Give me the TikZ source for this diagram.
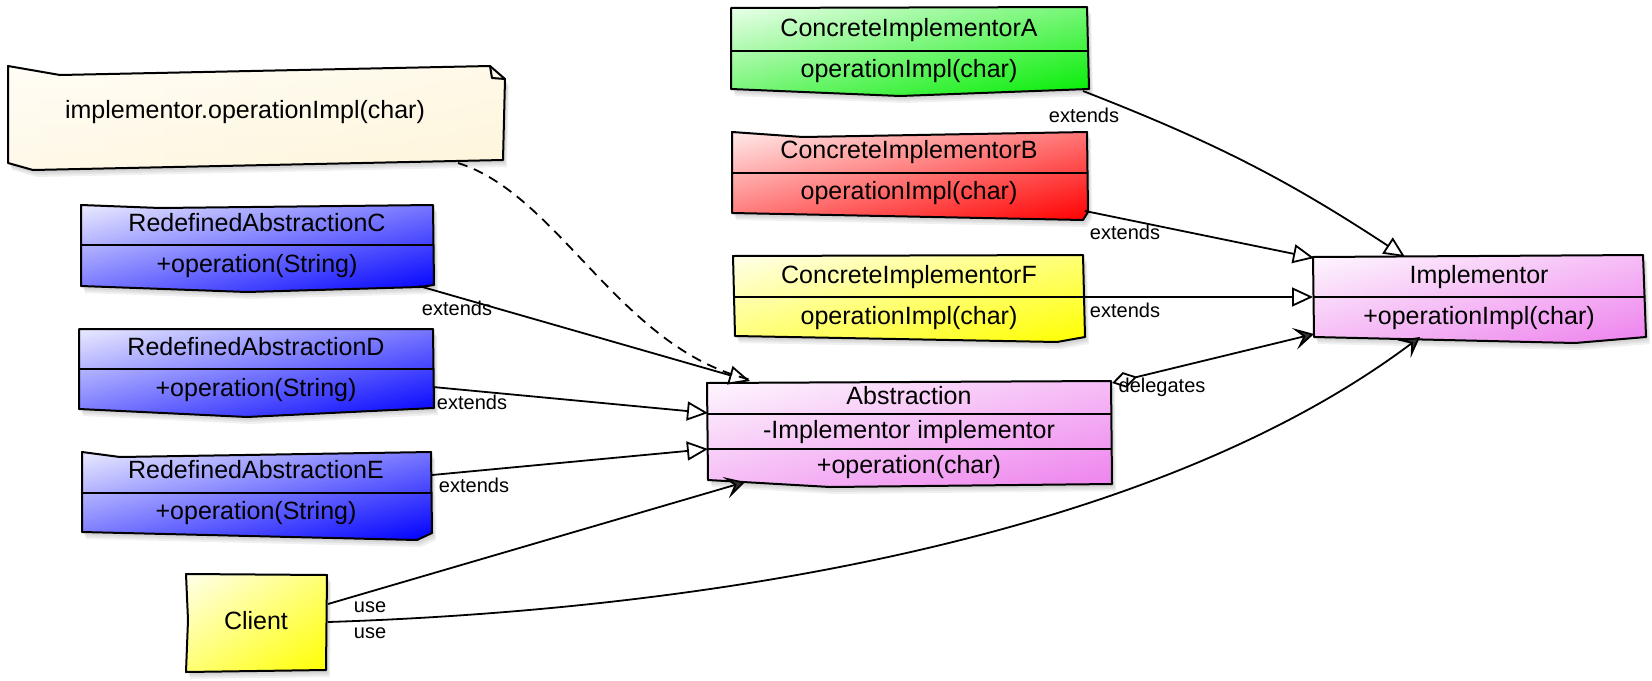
\documentclass[tikz,border=0pt]{standalone}
\usepackage{fontspec}
\setmainfont{Liberation Sans}
\usetikzlibrary{arrows.meta,fit,calc}

\definecolor{violetc}{RGB}{238,130,238}
\definecolor{notetop}{RGB}{255,253,246}
\definecolor{notebot}{RGB}{254,245,218}

% outline polygon with a soft drop shadow; the fill runs from #1 in the
% top left corner to #2 in the bottom right corner (average of a
% horizontal and a vertical linear gradient)
\newcommand\shadedbox[3]{%
  \foreach \d in {1,2,3}{\fill[black,opacity=0.06,shift={(\d+1,\d*2+1)}] #3;}
  \shade[left color=#1,right color=#2] #3;
  \shade[top color=#1,bottom color=#2,fill opacity=0.5] #3;
  \draw[outline] #3;
}

\begin{document}
\begin{tikzpicture}[x=0.5pt,y=-0.5pt,
  outline/.style={draw=black,line width=1pt,line join=round},
  boxfit/.style={inner sep=0pt,outer sep=0pt},
  txt/.style={font=\fontsize{12.5}{14}\selectfont,text height=9pt,text depth=2.5pt,inner sep=0pt},
  tag/.style={font=\fontsize{10}{12}\selectfont,inner sep=0pt},
  conn/.style={line width=0.9pt,line join=round},
  ext/.style={conn,-{Triangle[open,length=10.5pt,width=9.5pt,fill=white]}},
  uses/.style={conn,-{Stealth[length=10pt,width=11pt,inset=4.5pt,fill=black!80]}},
  deleg/.style={conn,{Diamond[open,length=13pt,width=8pt,fill=white]}-{Stealth[length=10pt,width=11pt,inset=4.5pt,fill=black!80]}},
  notelink/.style={conn,dashed,dash pattern=on 5pt off 3.5pt},
]
\useasboundingbox (0,0) rectangle (1652,680);

% ---------- note ----------
\shadedbox{notetop}{notebot}{(8,66) -- (60,75) -- (490,66) -- (505,79) -- (503,160) -- (33,170) -- (8,163) -- cycle}
\draw[outline] (490,66) -- (492,78) -- (505,79);
\node[boxfit,fit={(8,66) (506,170)}] (Note) {};
\node[txt] (Note-t) at (245,112) {implementor.operationImpl(char)};

% ---------- concrete implementors ----------
\shadedbox{green!8!white}{green!93!black}{(731,8) -- (1087,7) -- (1089,89) -- (900,96) -- (731,89) -- cycle}
\draw[outline] (731,51) -- (1088,51);
\node[boxfit,fit={(731,7) (1090,96)}] (A) {};
\node[txt] (A-n) at (909,30) {ConcreteImplementorA};
\node[txt] (A-o) at (909,71) {operationImpl(char)};

\shadedbox{red!8!white}{red}{(732,132) -- (803,137) -- (1087,132) -- (1088,212) -- (1083,220) -- (732,213) -- cycle}
\draw[outline] (732,173) -- (1088,173);
\node[boxfit,fit={(732,132) (1088,220)}] (B) {};
\node[txt] (B-n) at (909,152) {ConcreteImplementorB};
\node[txt] (B-o) at (909,193) {operationImpl(char)};

\shadedbox{yellow!8!white}{yellow}{(733,256) -- (1083,255) -- (1085,337) -- (1057,342) -- (735,336) -- cycle}
\draw[outline] (733,297) -- (1085,297);
\node[boxfit,fit={(733,255) (1085,342)}] (F) {};
\node[txt] (F-n) at (909,277) {ConcreteImplementorF};
\node[txt] (F-o) at (909,318) {operationImpl(char)};

% ---------- implementor ----------
\shadedbox{violetc!6!white}{violetc}{(1313,257) -- (1643,255) -- (1646,337) -- (1575,343) -- (1314,337) -- cycle}
\draw[outline] (1313,297) -- (1645,297);
\node[boxfit,fit={(1313,255) (1646,343)}] (Impl) {};
\node[txt] (Impl-n) at (1479,277) {Implementor};
\node[txt] (Impl-o) at (1479,318) {+operationImpl(char)};

% ---------- abstraction ----------
\shadedbox{violetc!6!white}{violetc}{(707,383) -- (1111,381) -- (1112,484) -- (830,487) -- (708,480) -- cycle}
\draw[outline] (707,414) -- (1111,414);
\draw[outline] (708,449) -- (1112,449);
\node[boxfit,fit={(707,381) (1112,487)}] (Abs) {};
\node[txt] (Abs-n) at (909,398) {Abstraction};
\node[txt] (Abs-a) at (909,432) {-Implementor implementor};
\node[txt] (Abs-o) at (909,467) {+operation(char)};

% ---------- refined abstractions ----------
\shadedbox{blue!8!white}{blue}{(81,205) -- (160,208) -- (433,205) -- (434,285) -- (420,287) -- (247,292) -- (81,286) -- cycle}
\draw[outline] (81,245) -- (433,245);
\node[boxfit,fit={(81,205) (433,292)}] (C) {};
\node[txt] (C-n) at (257,225) {RedefinedAbstractionC};
\node[txt] (C-o) at (257,266) {+operation(String)};

\shadedbox{blue!8!white}{blue}{(79,329) -- (433,329) -- (434,408) -- (247,417) -- (79,409) -- cycle}
\draw[outline] (79,369) -- (433,369);
\node[boxfit,fit={(79,329) (433,417)}] (D) {};
\node[txt] (D-n) at (256,349) {RedefinedAbstractionD};
\node[txt] (D-o) at (256,390) {+operation(String)};

\shadedbox{blue!8!white}{blue}{(82,452) -- (120,457) -- (431,452) -- (432,533) -- (417,540) -- (82,532) -- cycle}
\draw[outline] (82,493) -- (432,493);
\node[boxfit,fit={(81,452) (432,540)}] (E) {};
\node[txt] (E-n) at (256,472) {RedefinedAbstractionE};
\node[txt] (E-o) at (256,513) {+operation(String)};

% ---------- client ----------
\shadedbox{yellow!8!white}{yellow}{(186,574) -- (327,575) -- (326,670) -- (186,672) -- (188,620) -- cycle}
\node[boxfit,fit={(186,574) (327,672)}] (Client) {};
\node[txt] (Client-n) at (256,623) {Client};

% ---------- connectors ----------
\draw[ext] ([shift={(-7,-5)}]A.south east) to[bend left=6] ([shift={(92,2)}]Impl.north west);
\draw[ext] ([shift={(-3,-9)}]B.south east) -- ([shift={(1,3)}]Impl.north west);
\draw[ext] ([shift={(0,42)}]F.north east) -- ([shift={(0,42)}]Impl.north west);
\draw[deleg] ([shift={(0,2)}]Abs.north east) -- ([shift={(1,-9)}]Impl.south west);
\draw[uses] ([shift={(1,48)}]Client.north east) .. controls +(372,-12) and +(-270,203) .. ([shift={(107,-6)}]Impl.south west);
\draw[uses] ([shift={(1,30)}]Client.north east) -- ([shift={(38,-5)}]Abs.south west);
\draw[ext] ([shift={(-14,-6)}]C.south east) -- ([shift={(43,0)}]Abs.north west);
\draw[ext] ([shift={(0,58)}]D.north east) -- ([shift={(1,32)}]Abs.north west);
\draw[ext] ([shift={(0,23)}]E.north east) -- ([shift={(1,68)}]Abs.north west);
\draw[notelink] ([shift={(-48,-7)}]Note.south east) .. controls +(102,32) and +(-132,-30) .. ([shift={(45,-1)}]Abs.north west);

% ---------- connector labels ----------
\node[tag] (lA) at (1084,115) {extends};
\node[tag] (lB) at (1125,232) {extends};
\node[tag] (lF) at (1125,310) {extends};
\node[tag] (lDel) at (1162,387) {delegates};
\node[tag] (lC) at (457,308) {extends};
\node[tag] (lD) at (472,402) {extends};
\node[tag] (lE) at (474,485) {extends};
\node[tag] (lU1) at (370,607) {use};
\node[tag] (lU2) at (370,633) {use};
\end{tikzpicture}
\end{document}
